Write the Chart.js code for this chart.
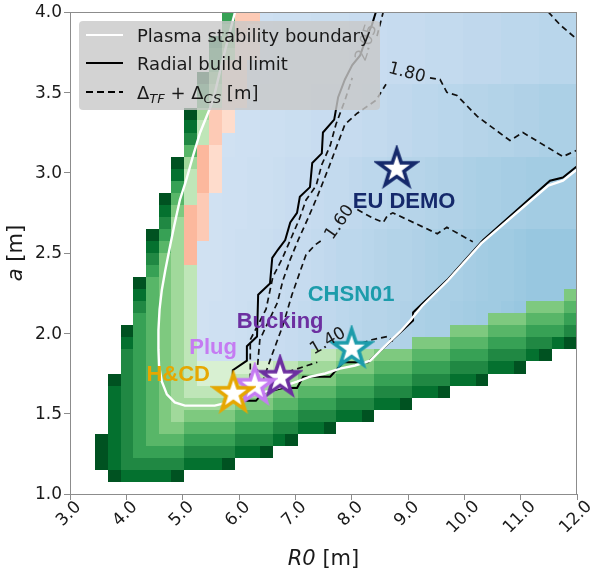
<!DOCTYPE html>
<html>
<head>
<meta charset="utf-8">
<title>R0 / a scan</title>
<script src="https://cdn.jsdelivr.net/npm/chart.js@4.4.1/dist/chart.umd.min.js"></script>
<style>
  html, body { margin: 0; padding: 0; background: #ffffff; }
  #box { width: 595px; height: 574px; }
</style>
</head>
<body>
<div id="box"><canvas id="scanChart" width="595" height="574"></canvas></div>
<script>
// scan grid: 40 x 40 cells over R0 3..12 and a 1..4
const r0Range = [3.0, 12.0];
const aRange = [1.0, 4.0];
const nCells = 40;
// one string per cell row, top row (a near 4.0) first, one char per R0 cell
// '.' empty, 1-9 green shade, a-c salmon shade, '#' blue (shade from blueShade)
// a row ending in '#' continues blue to the right edge
const cellRows = [
  "............6bb#",
  "............5ba#",
  "...........84aa#",
  "...........73aa#",
  "...........5aa#",
  "..........94aa#",
  "..........73aa#",
  "..........52aa#",
  ".........93ba#",
  ".........82ba#",
  ".........72b#",
  ".........5ca#",
  "........93ca#",
  "........82ca#",
  "........62ca#",
  ".......952b#",
  ".......84cb#",
  ".......73cb#",
  "......963cb#",
  "......853c#",
  "......743c#",
  "......6432#",
  ".....95432#",
  ".....85432#############################4",
  ".....75432##########################4445",
  ".....65432#######################4445556",
  "....965432####################4445556667",
  "....865432#################4445556667789",
  "....765432#########2233344455566677789",
  "....76543211111122333444555666777889",
  "...976543211122233444555666777889",
  "...876543222233344555666777889",
  "...876543333344455666777889",
  "...876543444455566777889",
  "...876544555566677889",
  "..9876555666677789",
  "..98766667777889",
  "..98777778889",
  "...988889",
  ""
];
// blue shade per cell (A lightest ... Y darkest), same layout as cellRows
const blueTop    = "CCCCCCCCCCCCCDDDEEEFFFGGGHHHIIIJJJKKKLLL";
const blueUpper  = "CCCCCCCCCCCCCDDEEFFGGHHIIJJKKLLMMNNOOPPP";
const blueMiddle = "CCCCCCCCCCCCDDEEFGGHIIJKKLMMNOOPQQRRSSSS";
const blueLower  = "CCCCCCCCCCCCDEEFGHHIJKKLMNNOPQQRSTTUVVVV";
const blueBottom = "CCCCCCCCCCCDDEFGGHIJJKLMMNOPQQRSTTUVWWXY";
const blueShade = [
  blueTop, blueTop, blueTop, blueTop, blueTop, blueTop,
  blueUpper, blueUpper, blueUpper, blueUpper, blueUpper, blueUpper,
  blueMiddle, blueMiddle, blueMiddle, blueMiddle, blueMiddle, blueMiddle,
  blueLower, blueLower, blueLower, blueLower, blueLower, blueLower,
  blueBottom, blueBottom, blueBottom, blueBottom, blueBottom, blueBottom,
  blueBottom, blueBottom, blueBottom, blueBottom, blueBottom, blueBottom,
  blueBottom, blueBottom, blueBottom, blueBottom
];

const xTicks = [3, 4, 5, 6, 7, 8, 9, 10, 11, 12];
const yTicks = [1.0, 1.5, 2.0, 2.5, 3.0, 3.5, 4.0];

// plasma stability boundary (white)
const stabR0 = [5.93, 5.73, 5.54, 5.31, 5.18, 5.06, 4.95, 4.85, 4.78, 4.69, 4.63, 4.59, 4.57, 4.57, 4.58, 4.63, 4.72, 4.86, 5.04, 5.31, 5.57, 5.81, 6.02, 6.28, 6.52, 6.78, 7.03, 7.26, 7.53, 7.79, 8.06, 8.33, 8.59, 8.86, 9.04, 9.25, 9.71, 10.30, 10.96, 11.49, 11.75, 12.0];
const stabA  = [4.00, 3.73, 3.45, 3.25, 3.10, 2.95, 2.83, 2.67, 2.55, 2.39, 2.27, 2.15, 2.02, 1.90, 1.80, 1.70, 1.62, 1.57, 1.55, 1.55, 1.55, 1.57, 1.59, 1.62, 1.64, 1.67, 1.70, 1.73, 1.75, 1.78, 1.80, 1.83, 1.92, 2.01, 2.08, 2.17, 2.33, 2.56, 2.76, 2.92, 2.95, 3.02];

// radial build limit (black)
const buildR0 = [8.43, 8.36, 8.25, 8.15, 8.01, 7.88, 7.76, 7.69, 7.49, 7.47, 7.30, 7.26, 7.08, 7.03, 6.91, 6.82, 6.69, 6.59, 6.55, 6.34, 6.32, 6.14, 6.14, 5.89, 5.89, 6.02, 6.30, 6.43, 6.78, 7.03, 7.14, 7.62, 7.85, 8.29, 9.09, 9.09, 9.69, 10.33, 11.52, 11.75, 12.0];
const buildA  = [4.00, 3.92, 3.83, 3.73, 3.67, 3.58, 3.47, 3.33, 3.25, 3.12, 3.06, 2.91, 2.85, 2.75, 2.69, 2.58, 2.52, 2.47, 2.31, 2.24, 1.98, 1.92, 1.83, 1.77, 1.62, 1.58, 1.58, 1.63, 1.66, 1.66, 1.73, 1.73, 1.82, 1.82, 2.08, 2.13, 2.33, 2.58, 2.95, 2.97, 3.04];

// Delta_TF + Delta_CS contours (dashed), split where the inline label sits
const c140R0 = [6.55, 6.87, 7.39];
const c140A  = [1.70, 1.76, 1.82];
const c140bR0 = [8.01, 8.36, 8.63, 8.73];
const c140bA  = [1.92, 1.96, 1.98, 1.95];
const c160R0 = [6.41, 6.59, 6.78, 6.94, 7.08, 7.19, 7.35, 7.47];
const c160A  = [1.69, 1.87, 2.05, 2.24, 2.38, 2.49, 2.55, 2.58];
const c160bR0 = [8.10, 8.36, 8.56, 8.63, 8.73, 9.52, 9.69, 10.15];
const c160bA  = [2.77, 2.72, 2.69, 2.73, 2.75, 2.62, 2.66, 2.57];
const c180R0 = [6.30, 6.37, 6.68, 6.78, 6.91, 7.05, 7.23, 7.40, 7.58, 7.72, 7.88, 8.10, 8.43, 8.61];
const c180A  = [1.68, 1.96, 2.19, 2.33, 2.46, 2.58, 2.72, 2.86, 3.02, 3.15, 3.30, 3.37, 3.45, 3.55];
const c180bR0 = [9.39, 9.57, 9.69, 9.87, 10.23, 10.81, 11.04, 11.75, 12.0];
const c180bA  = [3.59, 3.58, 3.50, 3.48, 3.35, 3.20, 3.25, 3.10, 3.14];
const c205R0 = [6.20, 6.20, 6.48, 6.60, 6.76, 6.91, 7.07, 7.19, 7.37, 7.47, 7.62, 7.72, 7.88, 8.01];
const c205A  = [1.65, 1.96, 2.15, 2.35, 2.46, 2.58, 2.71, 2.83, 2.92, 3.05, 3.17, 3.30, 3.45, 3.59];
const c205bR0 = [8.45, 8.56];
const c205bA  = [3.85, 4.00];
const c220R0 = [11.49, 11.70, 12.0];
const c220A  = [4.00, 3.92, 3.83];

const contourText = ['1.40', '1.60', '1.80', '2.05'];
const contourR0 = [7.58, 7.79, 8.98, 8.27];
const contourA = [1.95, 2.69, 3.62, 3.81];
const contourAngle = [-30, -55, 15, -72];

// reference devices
const devNames = ['EU DEMO', 'CHSN01', 'Bucking', 'Plug', 'H&CD'];
const devR0 = [8.80, 8.00, 6.73, 6.28, 5.90];
const devA = [3.03, 1.91, 1.73, 1.68, 1.63];
const devColors = ['#15296b', '#1c9cab', '#6c2fa0', '#c57bf2', '#e6a700'];
const devLabelR0 = [8.93, 7.99, 6.73, 5.54, 4.92];
const devLabelA = [2.82, 2.24, 2.07, 1.91, 1.74];

const legendLabels = ['Plasma stability boundary', 'Radial build limit'];

// colour maps (matplotlib Greens / Reds / Blues)
const greens = ['#f7fcf5','#e5f5e0','#c7e9c0','#a1d99b','#74c476','#41ab5d','#238b45','#006d2c','#00441b'];
const reds = ['#fff5f0','#fee0d2','#fcbba1','#fc9272','#fb6a4a','#ef3b2c','#cb181d','#a50f15','#67000d'];
const blues = ['#f7fbff','#deebf7','#c6dbef','#9ecae1','#6baed6','#4292c6','#2171b5','#08519c','#08306b'];

function hexRgb(h) {
  return [parseInt(h.slice(1,3),16), parseInt(h.slice(3,5),16), parseInt(h.slice(5,7),16)];
}
function cmap(stops, t) {
  t = Math.max(0, Math.min(1, t));
  let p = t * (stops.length - 1);
  let i = Math.min(Math.floor(p), stops.length - 2);
  let f = p - i;
  let a = hexRgb(stops[i]), b = hexRgb(stops[i+1]);
  return 'rgb(' + a.map((v, k) => Math.round(v + (b[k]-v)*f)).join(',') + ')';
}
function cellColor(ch, shade) {
  if (ch >= '1' && ch <= '9') return cmap(greens, 0.18 + (ch.charCodeAt(0) - 49) * 0.097);
  if (ch >= 'a' && ch <= 'e') return cmap(reds, 0.14 + (ch.charCodeAt(0) - 97) * 0.06);
  if (ch === '#') return cmap(blues, 0.18 + (shade.charCodeAt(0) - 65) * 0.01);
  return null;
}

function pts(xs, ys) {
  return xs.map((v, i) => ({x: v, y: ys[i]}));
}

function makeStar(color) {
  let c = document.createElement('canvas');
  c.width = 46; c.height = 46;
  let g = c.getContext('2d');
  g.beginPath();
  for (let k = 0; k < 10; k++) {
    let r = k % 2 ? 7.6 : 19.5;
    let ang = -Math.PI / 2 + k * Math.PI / 5;
    g.lineTo(23 + r * Math.cos(ang), 24 + r * Math.sin(ang));
  }
  g.closePath();
  g.fillStyle = '#ffffff';
  g.fill();
  g.lineWidth = 3.6;
  g.lineJoin = 'miter';
  g.strokeStyle = color;
  g.stroke();
  return c;
}

const FONT = "'DejaVu Sans', sans-serif";
const AXIS = '#8c8c8c';
const INK = '#1a1a1a';

const heatmap = {
  id: 'heatmap',
  beforeDatasetsDraw(chart) {
    const {ctx, chartArea, scales: {x, y}} = chart;
    const dx = (r0Range[1] - r0Range[0]) / nCells;
    const dy = (aRange[1] - aRange[0]) / nCells;
    ctx.save();
    ctx.beginPath();
    ctx.rect(chartArea.left, chartArea.top, chartArea.width, chartArea.height);
    ctx.clip();
    cellRows.forEach((row, k) => {
      row = row.padEnd(nCells, row.endsWith('#') ? '#' : '.');
      let j = nCells - 1 - k;
      for (let i = 0; i < nCells; i++) {
        let col = cellColor(row[i], blueShade[k][i]);
        if (!col) continue;
        let x0 = Math.round(x.getPixelForValue(r0Range[0] + i * dx));
        let x1 = Math.round(x.getPixelForValue(r0Range[0] + (i + 1) * dx));
        let y0 = Math.round(y.getPixelForValue(aRange[0] + (j + 1) * dy));
        let y1 = Math.round(y.getPixelForValue(aRange[0] + j * dy));
        ctx.fillStyle = col;
        ctx.fillRect(x0, y0, x1 - x0, y1 - y0);
      }
    });
    ctx.restore();
  }
};

function drawMixed(ctx, parts, x, y) {
  let w = 0;
  parts.forEach(p => { ctx.font = p[1]; w += ctx.measureText(p[0]).width; });
  let cx = x - w / 2;
  parts.forEach(p => {
    ctx.font = p[1];
    ctx.fillText(p[0], cx, y + (p[2] || 0));
    cx += ctx.measureText(p[0]).width;
  });
}

const overlay = {
  id: 'overlay',
  afterDatasetsDraw(chart) {
    const {ctx, chartArea: ca, scales: {x, y}} = chart;
    ctx.save();
    // contour labels
    ctx.fillStyle = INK;
    ctx.font = '17px ' + FONT;
    ctx.textAlign = 'center';
    ctx.textBaseline = 'middle';
    contourText.forEach((t, i) => {
      ctx.save();
      ctx.translate(x.getPixelForValue(contourR0[i]), y.getPixelForValue(contourA[i]));
      ctx.rotate(contourAngle[i] * Math.PI / 180);
      ctx.fillText(t, 0, 0);
      ctx.restore();
    });
    // device names
    ctx.font = "bold 22px 'Liberation Sans', Arial, sans-serif";
    devNames.forEach((t, i) => {
      ctx.fillStyle = devColors[i];
      ctx.fillText(t, x.getPixelForValue(devLabelR0[i]), y.getPixelForValue(devLabelA[i]));
    });
    // legend
    let lx = ca.left + 9, ly = ca.top + 9, lw = 301, lh = 89;
    ctx.fillStyle = 'rgba(200,200,200,0.8)';
    ctx.beginPath();
    ctx.roundRect(lx, ly, lw, lh, 4);
    ctx.fill();
    let rowsY = [ly + 14, ly + 42, ly + 71];
    let lineStyles = [['#ffffff', []], ['#000000', []], ['#000000', [7, 4]]];
    rowsY.forEach((ry, i) => {
      ctx.strokeStyle = lineStyles[i][0];
      ctx.setLineDash(lineStyles[i][1]);
      ctx.lineWidth = 2.2;
      ctx.beginPath();
      ctx.moveTo(lx + 7, ry);
      ctx.lineTo(lx + 44, ry);
      ctx.stroke();
    });
    ctx.setLineDash([]);
    ctx.fillStyle = INK;
    ctx.textAlign = 'left';
    ctx.textBaseline = 'alphabetic';
    ctx.font = '18px ' + FONT;
    ctx.fillText(legendLabels[0], lx + 58, rowsY[0] + 6.5);
    ctx.fillText(legendLabels[1], lx + 58, rowsY[1] + 6.5);
    let tx = lx + 58, by = rowsY[2] + 6.5;
    const parts = [['\u0394', '18px ' + FONT, 0], ['TF', 'italic 13px ' + FONT, 4], [' + \u0394', '18px ' + FONT, 0], ['CS', 'italic 13px ' + FONT, 4], [' [m]', '18px ' + FONT, 0]];
    parts.forEach(p => {
      ctx.font = p[1];
      ctx.fillText(p[0], tx, by + p[2]);
      tx += ctx.measureText(p[0]).width;
    });
    ctx.restore();
  },
  afterDraw(chart) {
    const {ctx, chartArea: ca, scales: {x, y}} = chart;
    ctx.save();
    ctx.strokeStyle = AXIS;
    ctx.lineWidth = 1;
    ctx.strokeRect(ca.left + 0.5, ca.top + 0.5, ca.width - 1, ca.height);
    ctx.fillStyle = INK;
    ctx.font = '17px ' + FONT;
    // y tick labels
    ctx.textAlign = 'right';
    ctx.textBaseline = 'middle';
    y.ticks.forEach(t => {
      ctx.fillText(t.value.toFixed(1), ca.left - 8, y.getPixelForValue(t.value) + 1);
    });
    // x tick labels, rotated and centred below the ticks
    ctx.textAlign = 'center';
    x.ticks.forEach(t => {
      let px = x.getPixelForValue(t.value);
      let w = ctx.measureText(t.value.toFixed(1)).width;
      ctx.save();
      ctx.translate(px - 1, ca.bottom + 12 + w * 0.3);
      ctx.rotate(-Math.PI / 4);
      ctx.fillText(t.value.toFixed(1), 0, 0);
      ctx.restore();
    });
    // axis titles
    ctx.textAlign = 'left';
    ctx.textBaseline = 'alphabetic';
    drawMixed(ctx, [['R0', 'italic 21px ' + FONT], [' [m]', '21px ' + FONT]], (ca.left + ca.right) / 2, 565);
    ctx.save();
    ctx.translate(22, (ca.top + ca.bottom) / 2);
    ctx.rotate(-Math.PI / 2);
    drawMixed(ctx, [['a', 'italic 21px ' + FONT], [' [m]', '21px ' + FONT]], 0, 0);
    ctx.restore();
    ctx.restore();
  }
};

const starIcons = devColors.map(makeStar);

const lineSet = (xs, ys, color, width, dash) => ({
  type: 'line',
  data: pts(xs, ys),
  showLine: true,
  borderColor: color,
  borderWidth: width,
  borderDash: dash,
  pointRadius: 0,
  fill: false,
  tension: 0,
  order: 2
});

new Chart(document.getElementById('scanChart'), {
  type: 'scatter',
  data: {
    datasets: [
      {
        data: pts(devR0, devA),
        pointStyle: starIcons,
        pointRadius: 20,
        order: 0
      },
      lineSet(stabR0, stabA, '#ffffff', 2.4, []),
      lineSet(buildR0, buildA, '#000000', 2.0, []),
      lineSet(c140R0, c140A, '#111111', 1.7, [6, 4]),
      lineSet(c140bR0, c140bA, '#111111', 1.7, [6, 4]),
      lineSet(c160R0, c160A, '#111111', 1.7, [6, 4]),
      lineSet(c160bR0, c160bA, '#111111', 1.7, [6, 4]),
      lineSet(c180R0, c180A, '#111111', 1.7, [6, 4]),
      lineSet(c180bR0, c180bA, '#111111', 1.7, [6, 4]),
      lineSet(c205R0, c205A, '#111111', 1.7, [6, 4]),
      lineSet(c205bR0, c205bA, '#111111', 1.7, [6, 4]),
      lineSet(c220R0, c220A, '#111111', 1.7, [6, 4])
    ]
  },
  options: {
    responsive: false,
    animation: false,
    devicePixelRatio: 1,
    layout: { autoPadding: false, padding: { top: 12, right: 18, left: 0, bottom: 0 } },
    plugins: { legend: { display: false }, tooltip: { enabled: false } },
    scales: {
      x: {
        type: 'linear',
        min: r0Range[0],
        max: r0Range[1],
        afterBuildTicks: s => { s.ticks = xTicks.map(v => ({value: v})); },
        afterFit: s => { s.height = 80; },
        ticks: { display: false },
        grid: { drawOnChartArea: false, drawTicks: true, tickLength: 6, color: AXIS },
        border: { color: AXIS }
      },
      y: {
        type: 'linear',
        min: aRange[0],
        max: aRange[1],
        afterBuildTicks: s => { s.ticks = yTicks.map(v => ({value: v})); },
        afterFit: s => { s.width = 70; },
        ticks: { display: false },
        grid: { drawOnChartArea: false, drawTicks: true, tickLength: 6, color: AXIS },
        border: { color: AXIS }
      }
    }
  },
  plugins: [heatmap, overlay]
});
</script>
</body>
</html>
